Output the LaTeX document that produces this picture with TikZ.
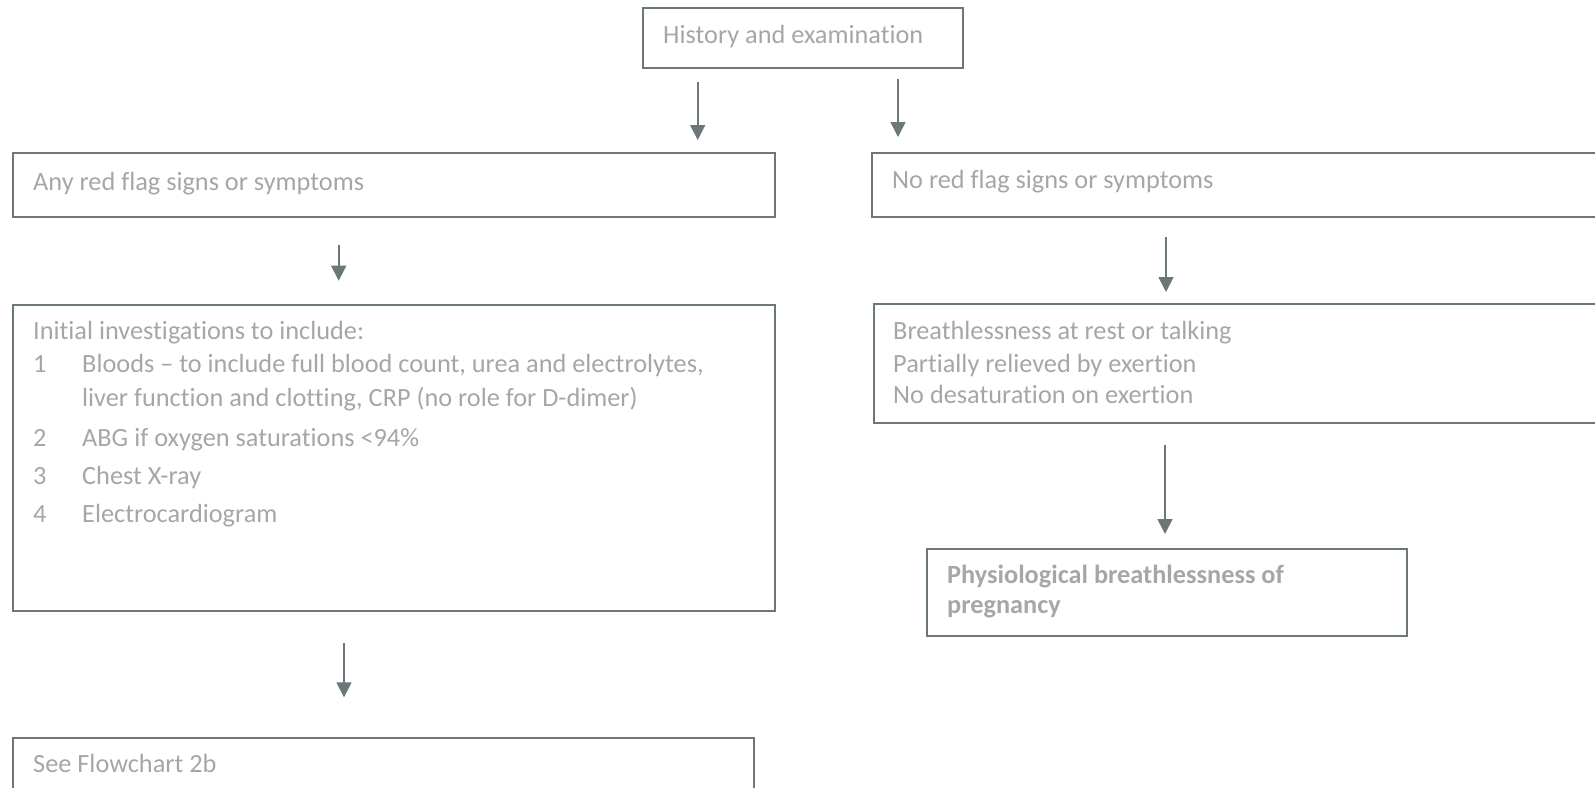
\documentclass[tikz,border=0pt]{standalone}
\usepackage{fontspec}
\setmainfont[Ligatures=NoCommon]{Carlito}
\usetikzlibrary{arrows.meta}
\definecolor{edge}{HTML}{6B7778}
\definecolor{txt}{HTML}{A6A6A6}
\tikzset{
  x=1pt, y=-1pt,
  box/.style={draw=edge, line width=1.8pt, rectangle, inner sep=0pt, anchor=north west},
  lbl/.style={text=txt, font=\fontsize{26.3}{30}\selectfont, anchor=base west, inner sep=0pt},
  blbl/.style={lbl, font=\fontsize{26.3}{30}\selectfont\bfseries},
  arr/.style={draw=edge, line width=1.6pt, -{Triangle[width=15pt,length=15pt]}}
}
\begin{document}
\begin{tikzpicture}
\useasboundingbox (0,0) rectangle (1595,787);
% boxes
\node[box, minimum width=320pt, minimum height=60pt] (hist) at (642,7) {};
\node[box, minimum width=762pt, minimum height=64pt] (red) at (12,152) {};
\node[box, minimum width=740pt, minimum height=64pt] (nored) at (871,152) {};
\node[box, minimum width=762pt, minimum height=306pt] (init) at (12,304) {};
\node[box, minimum width=740pt, minimum height=119pt] (breath) at (873,303) {};
\node[box, minimum width=480pt, minimum height=87pt] (phys) at (926,548) {};
\node[box, minimum width=741pt, minimum height=80pt] (see) at (12,737) {};
% texts
\node[lbl] (thist) at (663,43) {History and examination};
\node[lbl] (tred) at (33,190) {Any red flag signs or symptoms};
\node[lbl] (tnored) at (892,188) {No red flag signs or symptoms};
\node[lbl] (ti0) at (33,339) {Initial investigations to include:};
\node[lbl] (n1) at (33,372) {1};
\node[lbl] (ti1) at (82,372) {Bloods -- to include full blood count, urea and electrolytes,};
\node[lbl] (ti1b) at (82,406) {liver function and clotting, CRP (no role for D-dimer)};
\node[lbl] (n2) at (33,446) {2};
\node[lbl] (ti2) at (82,446) {ABG if oxygen saturations <94\%};
\node[lbl] (n3) at (33,484) {3};
\node[lbl] (ti3) at (82,484) {Chest X-ray};
\node[lbl] (n4) at (33,522) {4};
\node[lbl] (ti4) at (82,522) {Electrocardiogram};
\node[lbl] (tb1) at (893,339) {Breathlessness at rest or talking};
\node[lbl] (tb2) at (893,372) {Partially relieved by exertion};
\node[lbl] (tb3) at (893,403) {No desaturation on exertion};
\node[blbl] (tp1) at (947,583) {Physiological breathlessness of};
\node[blbl] (tp2) at (947,613) {pregnancy};
\node[lbl] (tsee) at (33,772) {See Flowchart 2b};
% arrow columns
\coordinate (c1) at (697.7,0);
\coordinate (c2) at (898,0);
\coordinate (c3) at (338.7,0);
\coordinate (c4) at (344,0);
\coordinate (c5) at (1166,0);
\coordinate (c6) at (1165,0);
\draw[arr, shorten <=13pt, shorten >=12pt] (hist.south -| c1) -- (red.north -| c1);
\draw[arr, shorten <=10pt, shorten >=15pt] (hist.south -| c2) -- (nored.north -| c2);
\draw[arr, shorten <=26.7pt, shorten >=23.3pt] (red.south -| c3) -- (init.north -| c3);
\draw[arr, shorten <=30.7pt, shorten >=39.7pt] (init.south -| c4) -- (see.north -| c4);
\draw[arr, shorten <=19pt, shorten >=11pt] (nored.south -| c5) -- (breath.north -| c5);
\draw[arr, shorten <=20.7pt, shorten >=14pt] (breath.south -| c6) -- (phys.north -| c6);
\end{tikzpicture}
\end{document}
